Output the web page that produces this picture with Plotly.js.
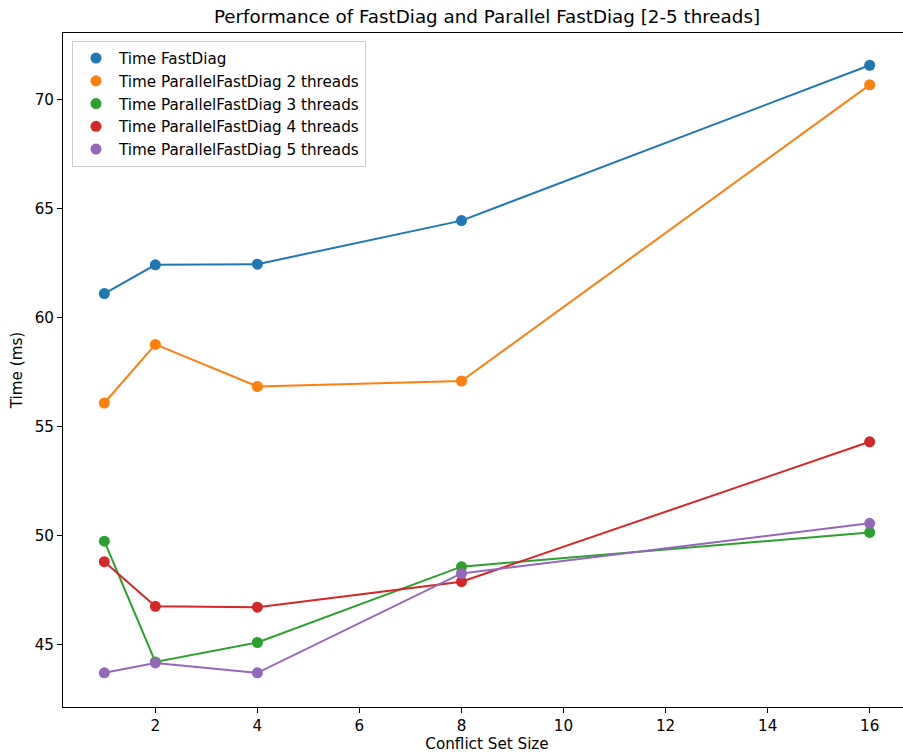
<!DOCTYPE html>
<html>
<head>
<meta charset="utf-8">
<script src="https://cdn.plot.ly/plotly-3.0.1.min.js"></script>
<style>
html,body{margin:0;padding:0;overflow:hidden;background:#fff;}
#chart{width:915px;height:754px;}
</style>
</head>
<body>
<div id="chart"></div>
<script>
const conflictSizes = [1, 2, 4, 8, 16];
const timeFastDiag = [61.10, 62.42, 62.45, 64.45, 71.58];
const timeParallel2 = [56.08, 58.77, 56.84, 57.09, 70.68];
const timeParallel3 = [49.74, 44.20, 45.09, 48.57, 50.14];
const timeParallel4 = [48.80, 46.75, 46.71, 47.88, 54.30];
const timeParallel5 = [43.70, 44.15, 43.70, 48.26, 50.56];

const seriesNames = [
  'Time FastDiag',
  'Time ParallelFastDiag 2 threads',
  'Time ParallelFastDiag 3 threads',
  'Time ParallelFastDiag 4 threads',
  'Time ParallelFastDiag 5 threads'
];
const seriesValues = [timeFastDiag, timeParallel2, timeParallel3, timeParallel4, timeParallel5];
const colors = ['#1f77b4', '#ff7f0e', '#2ca02c', '#d62728', '#9467bd'];

const traces = [];
seriesValues.forEach((vals, i) => {
  traces.push({
    x: conflictSizes, y: vals, mode: 'lines', type: 'scatter',
    line: {color: colors[i], width: 2}, showlegend: false, hoverinfo: 'skip'
  });
});
seriesValues.forEach((vals, i) => {
  traces.push({
    x: conflictSizes, y: vals, mode: 'markers', type: 'scatter',
    name: seriesNames[i],
    marker: {color: colors[i], size: 11}
  });
});

const tickFont = {family: 'DejaVu Sans', size: 15.2, color: '#000'};
const layout = {
  width: 915, height: 754,
  margin: {l: 63, r: 4, t: 33, b: 47},
  paper_bgcolor: '#fff', plot_bgcolor: '#fff',
  font: {family: 'DejaVu Sans', size: 15.2, color: '#000'},
  title: {
    text: 'Performance of FastDiag and Parallel FastDiag [2-5 threads]',
    font: {family: 'DejaVu Sans', size: 18.3, color: '#000'},
    xref: 'paper', x: 0.5, xanchor: 'center',
    yref: 'container', y: 1 - 17/754, yanchor: 'middle'
  },
  xaxis: {
    range: [0.19, 16.81],
    tickvals: [2, 4, 6, 8, 10, 12, 14, 16],
    ticks: 'outside', ticklen: 5, tickwidth: 1, tickcolor: '#000',
    showgrid: false, zeroline: false,
    showline: true, linecolor: '#000', linewidth: 1, mirror: true,
    tickfont: tickFont,
    title: {text: 'Conflict Set Size', font: tickFont, standoff: 4}
  },
  yaxis: {
    range: [42.13, 73.06],
    tickvals: [45, 50, 55, 60, 65, 70],
    ticks: 'outside', ticklen: 5, tickwidth: 1, tickcolor: '#000',
    showgrid: false, zeroline: false,
    showline: true, linecolor: '#000', linewidth: 1, mirror: true,
    tickfont: tickFont,
    title: {text: 'Time (ms)', font: tickFont, standoff: 8}
  },
  legend: {
    x: 0.0106, y: 0.9886, xanchor: 'left', yanchor: 'top',
    bgcolor: 'rgba(255,255,255,0.8)', bordercolor: '#cccccc', borderwidth: 1,
    font: {family: 'DejaVu Sans', size: 15.2, color: '#000'},
    itemwidth: 36
  },
  showlegend: true
};

Plotly.newPlot('chart', traces, layout, {displayModeBar: false, staticPlot: true});
</script>
</body>
</html>
